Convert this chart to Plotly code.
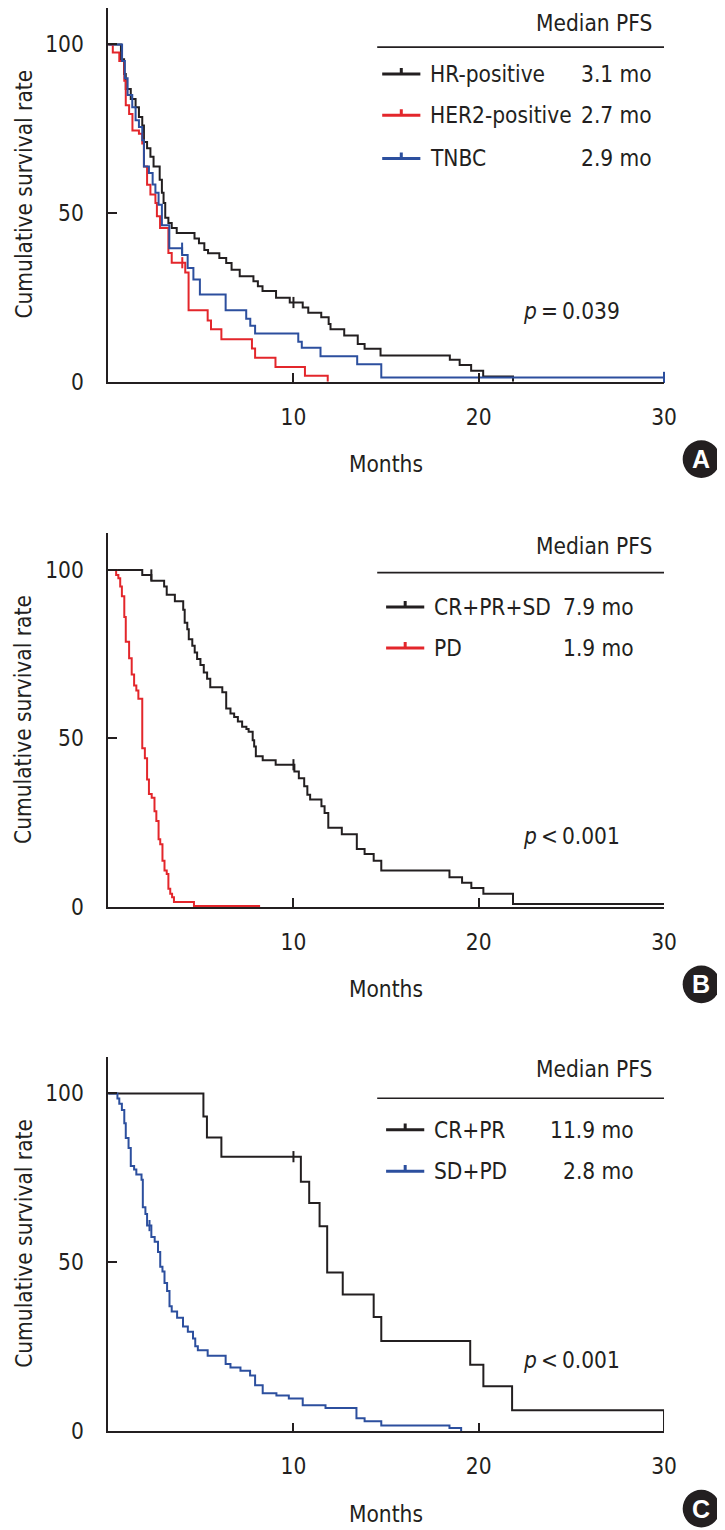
import plotly.graph_objects as go

W, H = 725, 1530
FONT = "'DejaVu Sans Condensed', 'Liberation Sans', Arial, sans-serif"
FS = 22.5
INK = "#231f20"
C_BLACK = "#231f20"
C_RED = "#e3262b"
C_BLUE = "#2c4f9e"

# ---------------- data (months, cumulative survival %) ----------------
# Panel A
hr_t = [0, 0.69, 0.86, 0.95, 1.22, 1.48, 1.66, 1.84, 1.93, 2.10, 2.28, 2.45, 2.78, 2.90, 2.99, 3.08, 3.25, 3.43, 3.70,
        4.66, 4.90, 5.19, 5.39, 6.00, 6.37, 6.66, 7.10, 7.84, 8.08, 8.33, 9.06, 9.80, 10.50, 10.80, 11.50, 11.90, 12.00,
        12.74, 13.47, 13.84, 14.70, 18.44, 18.97, 19.59, 20.24, 21.85]
hr_s = [100, 95.6, 91.2, 86.8, 83.8, 81.4, 78.5, 76.0, 71.1, 69.2, 66.7, 63.8, 59.9, 56.0, 53.0, 48.6, 47.1, 45.6, 44.1,
        42.5, 41.1, 39.1, 38.1, 36.7, 35.2, 33.2, 31.3, 29.8, 28.3, 26.9, 24.9, 23.5, 22.0, 20.5, 19.1, 17.1, 15.6,
        13.7, 11.2, 9.8, 7.8, 6.5, 5.0, 3.3, 1.6, 0]
her2_t = [0, 0.25, 0.60, 0.87, 0.95, 1.13, 1.31, 1.66, 1.84, 1.93, 2.10, 2.28, 2.55, 2.63, 2.80, 3.25, 3.43, 4.16, 4.34,
          5.37, 5.55, 6.11, 7.76, 7.93, 9.03, 10.62, 11.85]
her2_s = [100, 97.6, 95.1, 89.2, 82.0, 79.4, 74.5, 73.5, 70.6, 63.8, 58.4, 55.5, 53.0, 49.1, 45.6, 38.2, 35.3, 32.4, 21.2,
          18.2, 15.6, 12.6, 9.9, 7.1, 4.4, 1.8, 0]
tnbc_t = [0, 0.75, 0.90, 1.05, 1.30, 1.48, 1.66, 1.84, 1.93, 2.20, 2.40, 2.55, 2.72, 2.90, 3.30, 3.99, 4.29, 4.60, 4.95,
          6.34, 7.45, 7.67, 7.93, 10.26, 10.45, 11.46, 13.44, 14.74, 30]
tnbc_s = [100, 95.1, 90.0, 85.0, 81.4, 77.5, 75.5, 71.6, 63.8, 61.9, 58.5, 56.0, 52.5, 46.4, 39.6, 37.6, 33.7, 30.3, 25.9,
          21.2, 18.7, 16.6, 14.3, 11.9, 10.1, 7.6, 5.2, 1.3, 1.3]
hr_cens_t, hr_cens_s = [10.0], [23.5]
her2_cens_t, her2_cens_s = [4.0], [35.3]
tnbc_cens_t, tnbc_cens_s = [3.99, 30.0], [39.6, 1.3]

# Panel B
crs_t = [0, 1.84, 2.33, 3.02, 3.16, 3.60, 4.05, 4.13, 4.27, 4.35, 4.54, 4.67, 4.80, 4.98, 5.16, 5.34, 5.51, 6.16, 6.37,
         6.60, 6.80, 7.00, 7.23, 7.46, 7.58, 7.80, 7.88, 7.97, 8.34, 9.04, 10.05, 10.29, 10.58, 10.75, 10.90, 11.51,
         11.68, 11.88, 12.61, 13.42, 13.84, 14.33, 14.74, 18.42, 19.10, 19.60, 20.25, 21.85, 30]
crs_s = [100, 98.5, 96.8, 95.1, 92.6, 90.7, 88.2, 84.3, 82.4, 79.4, 77.5, 75.5, 73.6, 71.8, 69.6, 67.7, 65.2, 63.7, 58.9,
         57.4, 56.4, 55.0, 53.5, 52.8, 52.0, 49.5, 47.6, 44.7, 43.5, 42.2, 40.2, 38.2, 35.8, 33.3, 31.9, 29.9,
         27.9, 23.5, 21.6, 17.2, 15.7, 13.7, 10.8, 8.8, 7.2, 5.6, 3.9, 0.9, 0.9]
pd_t = [0, 0.43, 0.55, 0.65, 0.74, 0.87, 0.95, 1.13, 1.27, 1.40, 1.52, 1.63, 1.84, 1.98, 2.10, 2.20, 2.35, 2.50, 2.60,
        2.72, 2.81, 2.93, 3.04, 3.16, 3.25, 3.35, 3.45, 3.55, 4.63, 8.20]
pd_s = [100, 98.5, 97.5, 95.1, 92.2, 86.0, 78.7, 73.8, 69.0, 65.7, 64.2, 61.8, 47.1, 44.1, 37.8, 33.5, 32.4, 28.4, 25.5,
        20.1, 18.6, 13.7, 10.8, 9.8, 5.4, 3.9, 2.9, 1.5, 0.3, 0.3]
crs_cens_t, crs_cens_s = [2.33, 10.0], [98.5, 42.2]

# Panel C
crpr_t = [0, 5.14, 5.33, 6.11, 10.40, 10.85, 11.41, 11.82, 12.66, 14.33, 14.74, 19.54, 20.25, 21.80, 30]
crpr_s = [100, 93.2, 87.0, 81.3, 73.9, 67.6, 60.7, 47.0, 40.5, 33.8, 26.7, 19.7, 13.3, 6.2, 0]
sdpd_t = [0, 0.50, 0.60, 0.74, 0.87, 0.95, 1.10, 1.22, 1.40, 1.52, 1.80, 1.87, 2.01, 2.10, 2.33, 2.51, 2.69, 2.81, 2.93,
          3.04, 3.18, 3.31, 3.43, 3.72, 4.04, 4.30, 4.58, 4.70, 4.84, 5.37, 6.34, 6.60, 7.14, 7.66, 7.93, 8.34, 9.08,
          9.75, 10.50, 11.73, 13.40, 13.84, 14.74, 18.42, 19.05]
sdpd_s = [100, 98.5, 97.0, 95.1, 91.2, 86.8, 83.9, 78.5, 77.5, 76.0, 74.5, 66.3, 64.3, 60.9, 57.5, 56.1, 53.1, 48.7, 47.3,
          43.9, 41.5, 37.0, 35.5, 33.6, 31.0, 29.5, 27.5, 25.2, 24.0, 22.4, 19.9, 18.9, 17.9, 16.5, 13.6, 11.3, 10.6,
          9.7, 7.7, 6.9, 3.9, 3.0, 1.7, 1.0, 0]
crpr_cens_t, crpr_cens_s = [10.0], [81.3]
sdpd_cens_t, sdpd_cens_s = [2.23], [60.9]

# labels
groups_a = ["HR-positive", "HER2-positive", "TNBC"]
median_a = ["3.1 mo", "2.7 mo", "2.9 mo"]
groups_b = ["CR+PR+SD", "PD"]
median_b = ["7.9 mo", "1.9 mo"]
groups_c = ["CR+PR", "SD+PD"]
median_c = ["11.9 mo", "2.8 mo"]
pvals = ["<i>p</i>\u2009=\u20090.039", "<i>p</i>\u2009<\u20090.001", "<i>p</i>\u2009<\u20090.001"]
panel_letters = ["A", "B", "C"]
x_ticks = [10, 20, 30]
y_ticks = [0, 50, 100]

# ---------------- layout geometry (pixels) ----------------
X_LEFT, X_RIGHT = 102, 668
panel_px = [(0, 377), (530, 906.7), (1058, 1435.5)]  # (top, bottom) of plot area
Y_MAX = 110.8

panels = [
    dict(curves=[(hr_t, hr_s, C_BLACK), (her2_t, her2_s, C_RED), (tnbc_t, tnbc_s, C_BLUE)],
         cens=[(hr_cens_t, hr_cens_s, C_BLACK), (her2_cens_t, her2_cens_s, C_RED), (tnbc_cens_t, tnbc_cens_s, C_BLUE)],
         groups=groups_a, medians=median_a, colors=[C_BLACK, C_RED, C_BLUE],
         rows=[91.2, 79.0, 66.2], head=106.5, hline=99.2, sym=(14.79, 16.85), lab=17.28, val=29.47),
    dict(curves=[(crs_t, crs_s, C_BLACK), (pd_t, pd_s, C_RED)],
         cens=[(crs_cens_t, crs_cens_s, C_BLACK)],
         groups=groups_b, medians=median_b, colors=[C_BLACK, C_RED],
         rows=[89.0, 76.8], head=107.0, hline=99.2, sym=(15.0, 17.06), lab=17.49, val=28.51),
    dict(curves=[(crpr_t, crpr_s, C_BLACK), (sdpd_t, sdpd_s, C_BLUE)],
         cens=[(crpr_cens_t, crpr_cens_s, C_BLACK), (sdpd_cens_t, sdpd_cens_s, C_BLUE)],
         groups=groups_c, medians=median_c, colors=[C_BLACK, C_BLUE],
         rows=[89.3, 77.0], head=107.4, hline=98.6, sym=(15.0, 17.06), lab=17.49, val=28.51),
]

fig = go.Figure()
shapes, annotations = [], []
layout_axes = {}

for i, p in enumerate(panels):
    n = i + 1
    xa = "x" if n == 1 else f"x{n}"
    ya = "y" if n == 1 else f"y{n}"
    top, bot = panel_px[i]
    layout_axes["xaxis" if n == 1 else f"xaxis{n}"] = dict(
        domain=[X_LEFT / W, X_RIGHT / W], range=[0, 30], anchor=ya,
        showline=True, linecolor=INK, linewidth=1.6, showgrid=False, zeroline=False,
        ticks="inside", ticklen=9, tickwidth=1.5, tickcolor=INK,
        tickvals=x_ticks, ticktext=[str(v) for v in x_ticks], ticklabelstandoff=14,
        tickfont=dict(family=FONT, size=FS, color=INK), fixedrange=True)
    layout_axes["yaxis" if n == 1 else f"yaxis{n}"] = dict(
        domain=[1 - bot / H, 1 - top / H], range=[0, Y_MAX], anchor=xa,
        showline=True, linecolor=INK, linewidth=1.6, showgrid=False, zeroline=False,
        ticks="inside", ticklen=9, tickwidth=1.5, tickcolor=INK,
        tickvals=y_ticks, ticktext=[str(v) for v in y_ticks], ticklabelstandoff=18,
        tickfont=dict(family=FONT, size=FS, color=INK), fixedrange=True)

    for (t, s, c) in p["curves"]:
        fig.add_trace(go.Scatter(x=t, y=s, mode="lines", line=dict(color=c, width=2, shape="hv"),
                                 xaxis=xa, yaxis=ya, showlegend=False, hoverinfo="skip"))
    for (t, s, c) in p["cens"]:
        fig.add_trace(go.Scatter(x=t, y=s, mode="markers",
                                 marker=dict(symbol="line-ns", size=8, color=c, line=dict(color=c, width=2)),
                                 xaxis=xa, yaxis=ya, showlegend=False, hoverinfo="skip", cliponaxis=False))

    # legend table
    annotations.append(dict(x=29.47, y=p["head"], xref=xa, yref=ya, text="Median PFS",
                            showarrow=False, xanchor="right", yanchor="middle",
                            font=dict(family=FONT, size=FS, color=INK)))
    shapes.append(dict(type="line", xref=xa, yref=ya, x0=14.52, x1=30, y0=p["hline"], y1=p["hline"],
                       line=dict(color=INK, width=1.6)))
    for g, m, c, ry in zip(p["groups"], p["medians"], p["colors"], p["rows"]):
        s0, s1 = p["sym"]
        shapes.append(dict(type="line", xref=xa, yref=ya, x0=s0, x1=s1, y0=ry, y1=ry,
                           line=dict(color=c, width=3)))
        shapes.append(dict(type="line", xref=xa, yref=ya, x0=(s0 + s1) / 2, x1=(s0 + s1) / 2, y0=ry, y1=ry + 1.8,
                           line=dict(color=c, width=3)))
        annotations.append(dict(x=p["lab"], y=ry, xref=xa, yref=ya, text=g, showarrow=False,
                                xanchor="left", yanchor="middle", font=dict(family=FONT, size=FS, color=INK)))
        annotations.append(dict(x=p["val"], y=ry, xref=xa, yref=ya, text=m, showarrow=False,
                                xanchor="right", yanchor="middle", font=dict(family=FONT, size=FS, color=INK)))
    # p value
    annotations.append(dict(x=25.0, y=21.0, xref=xa, yref=ya, text=pvals[i], showarrow=False,
                            xanchor="center", yanchor="middle", font=dict(family=FONT, size=FS, color=INK)))
    # axis titles (paper coordinates, below / left of each panel)
    annotations.append(dict(x=385 / W, y=1 - (bot + 83) / H, xref="paper", yref="paper", text="Months",
                            showarrow=False, xanchor="center", yanchor="middle",
                            font=dict(family=FONT, size=FS, color=INK)))
    annotations.append(dict(x=16 / W, y=55.7, xref="paper", yref=ya, text="Cumulative survival rate",
                            showarrow=False, textangle=-90, xanchor="center", yanchor="middle",
                            font=dict(family=FONT, size=FS, color=INK)))
    # panel letter badge
    cx, cy, r = 706, bot + 78, 19
    shapes.append(dict(type="circle", xref="paper", yref="paper", x0=(cx - r) / W, x1=(cx + r) / W,
                       y0=1 - (cy + r) / H, y1=1 - (cy - r) / H, fillcolor=INK, line=dict(width=0)))
    annotations.append(dict(x=cx / W, y=1 - cy / H, xref="paper", yref="paper", text=f"<b>{panel_letters[i]}</b>",
                            showarrow=False, xanchor="center", yanchor="middle",
                            font=dict(family="Liberation Sans, Arial, sans-serif", size=25, color="white")))

fig.update_layout(width=W, height=H, margin=dict(l=0, r=0, t=0, b=0),
                  paper_bgcolor="white", plot_bgcolor="white",
                  font=dict(family=FONT, size=FS, color=INK),
                  shapes=shapes, annotations=annotations, **layout_axes)

fig.write_html("out.html")
